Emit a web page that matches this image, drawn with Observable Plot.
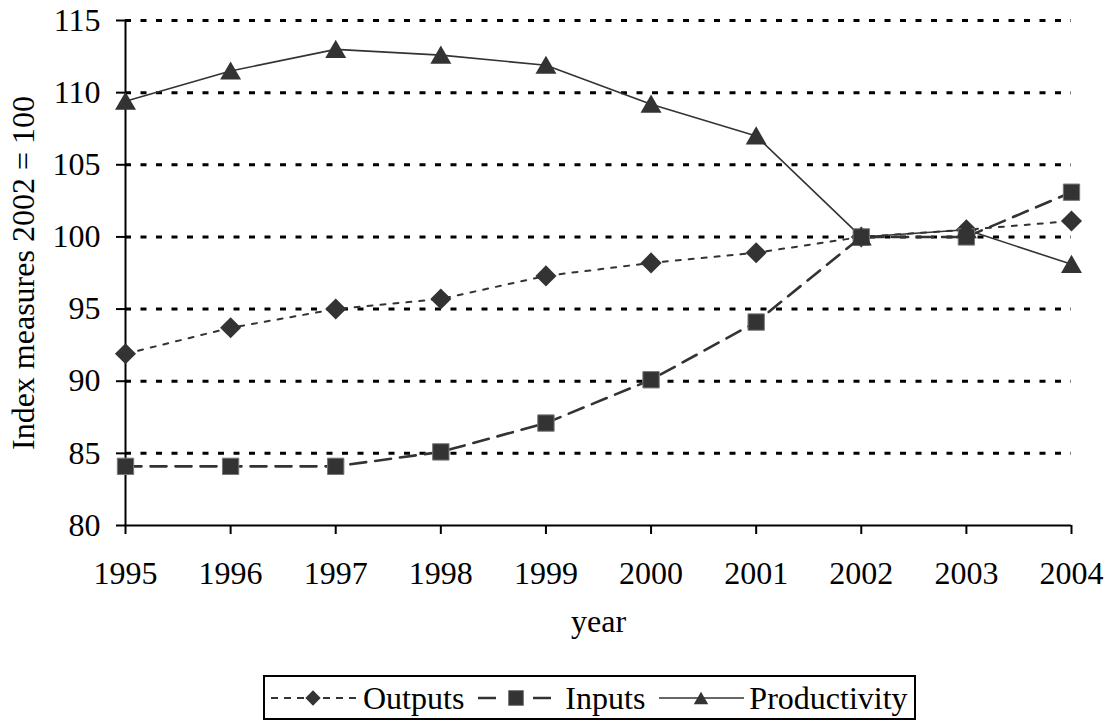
<!DOCTYPE html>
<html>
<head>
<meta charset="utf-8">
<script src="https://cdn.jsdelivr.net/npm/d3@7"></script>
<script src="https://cdn.jsdelivr.net/npm/@observablehq/plot@0.6"></script>
<style>
  html, body { margin: 0; padding: 0; background: #fff; }
  body { width: 1106px; height: 724px; position: relative; overflow: hidden;
         font-family: 'Liberation Serif', 'Times New Roman', serif; }
  #chart { position: absolute; left: 0; top: 0; }
  #legend { position: absolute; left: 263px; top: 675px; height: 45px; box-sizing: border-box;
            border: 2px solid #000; display: flex; align-items: center; padding: 0 6px 0 6px;
            font-size: 32px; color: #000; background: #fff; white-space: nowrap; }
  #legend svg { display: block; }
  #legend span { line-height: 1; }
</style>
</head>
<body>
<div id="chart"></div>
<div id="legend"></div>
<script>
const years = [1995, 1996, 1997, 1998, 1999, 2000, 2001, 2002, 2003, 2004];
const outputs = [91.9, 93.7, 95.0, 95.7, 97.3, 98.2, 98.9, 100.0, 100.5, 101.1];
const inputs = [84.1, 84.1, 84.1, 85.1, 87.1, 90.1, 94.1, 100.0, 100.0, 103.1];
const productivity = [109.4, 111.5, 113.0, 112.6, 111.9, 109.2, 107.0, 100.0, 100.5, 98.1];
const yTicks = [80, 85, 90, 95, 100, 105, 110, 115];
const gridTicks = [85, 90, 95, 100, 105, 110, 115];
const seriesNames = ["Outputs", "Inputs", "Productivity"];
const xLabel = "year";
const yLabel = "Index measures 2002 = 100";

const FONT = "'Liberation Serif', 'Times New Roman', serif";
const FS = 32;
const ink = "#333";
const styles = {
  Outputs: {dash: "5,8", width: 2, symbol: "diamond2", r: 9.5, dy: 0},
  Inputs: {dash: "16,9", width: 2.6, symbol: "square2", r: 10.4, dy: 0},
  Productivity: {dash: null, width: 1.6, symbol: "triangle2", r: 10, dy: 2.5}
};

const valuesBySeries = {Outputs: outputs, Inputs: inputs, Productivity: productivity};
const rows = seriesNames.map(name => years.map((year, i) => ({series: name, year, value: valuesBySeries[name][i]})));

const seriesMarks = [];
rows.forEach(data => {
  const st = styles[data[0].series];
  seriesMarks.push(Plot.line(data, {x: "year", y: "value", stroke: ink, strokeWidth: st.width,
    strokeDasharray: st.dash || undefined, curve: "linear"}));
});
rows.forEach(data => {
  const st = styles[data[0].series];
  seriesMarks.push(Plot.dot(data, {x: "year", y: "value", symbol: () => st.symbol, r: st.r,
    fill: ink, stroke: data[0].series === "Inputs" ? "#777" : "none", strokeWidth: 1, dy: st.dy}));
});

const chart = Plot.plot({
  width: 1106,
  height: 660,
  marginLeft: 125,
  marginRight: 35,
  marginTop: 20,
  marginBottom: 135,
  style: {fontFamily: FONT, fontSize: FS + "px", color: "#000", background: "#fff", overflow: "visible"},
  x: {type: "linear", domain: [1995, 2004]},
  y: {type: "linear", domain: [80, 115]},
  marks: [
    Plot.ruleY(gridTicks, {stroke: "#000", strokeWidth: 3, strokeDasharray: "6,9.5"}),
    Plot.axisY({ticks: yTicks, tickSize: 9, tickPadding: 16, tickFormat: d => String(d), label: null,
      stroke: "#000", strokeWidth: 2, fill: "#000", fontSize: FS, fontFamily: FONT}),
    Plot.axisX({ticks: years, tickSize: 9, tickPadding: 27, tickFormat: d => String(d), label: null,
      stroke: "#000", strokeWidth: 2, fill: "#000", fontSize: FS, fontFamily: FONT}),
    Plot.ruleX([1995], {stroke: "#000", strokeWidth: 2}),
    Plot.ruleY([80], {stroke: "#000", strokeWidth: 2}),
    ...seriesMarks,
    Plot.text([xLabel], {frameAnchor: "bottom", text: d => d, dy: 106, fill: "#000", fontSize: FS, fontFamily: FONT, textAnchor: "middle"}),
    Plot.text([yLabel], {frameAnchor: "left", text: d => d, rotate: -90, dx: -102, fill: "#000", fontSize: FS, fontFamily: FONT, textAnchor: "middle"})
  ]
});
document.getElementById("chart").appendChild(chart);

// Legend
const legend = d3.select("#legend");
const legendSpec = [
  {name: "Outputs", w: 87, cx: 42, ml: 0, mr: 5},
  {name: "Inputs", w: 73, cx: 38, ml: 14, mr: 14},
  {name: "Productivity", w: 85, cx: 42, ml: 14, mr: 5}
];
legendSpec.forEach(item => {
  const st = styles[item.name];
  const svg = legend.append("svg").attr("width", item.w).attr("height", 30)
    .style("margin-left", item.ml + "px").style("margin-right", item.mr + "px");
  svg.append("line").attr("x1", 0).attr("x2", item.w).attr("y1", 15).attr("y2", 15)
    .attr("stroke", ink).attr("stroke-width", st.width)
    .attr("stroke-dasharray", item.name === "Outputs" ? "7,6" : null);
  if (item.name === "Inputs") {
    svg.append("rect").attr("x", 18).attr("y", 12).attr("width", item.w - 36).attr("height", 6).attr("fill", "#fff");
  }
  const sym = {diamond2: d3.symbolDiamond2, square2: d3.symbolSquare2, triangle2: d3.symbolTriangle2}[st.symbol];
  const size = {diamond2: 150, square2: 280, triangle2: 150}[st.symbol];
  svg.append("path").attr("d", d3.symbol(sym, size)())
    .attr("transform", `translate(${item.cx},${st.symbol === "triangle2" ? 17 : 15})`)
    .attr("fill", ink).attr("stroke", st.symbol === "square2" ? "#777" : "none");
  legend.append("span").text(item.name);
});
</script>
</body>
</html>
